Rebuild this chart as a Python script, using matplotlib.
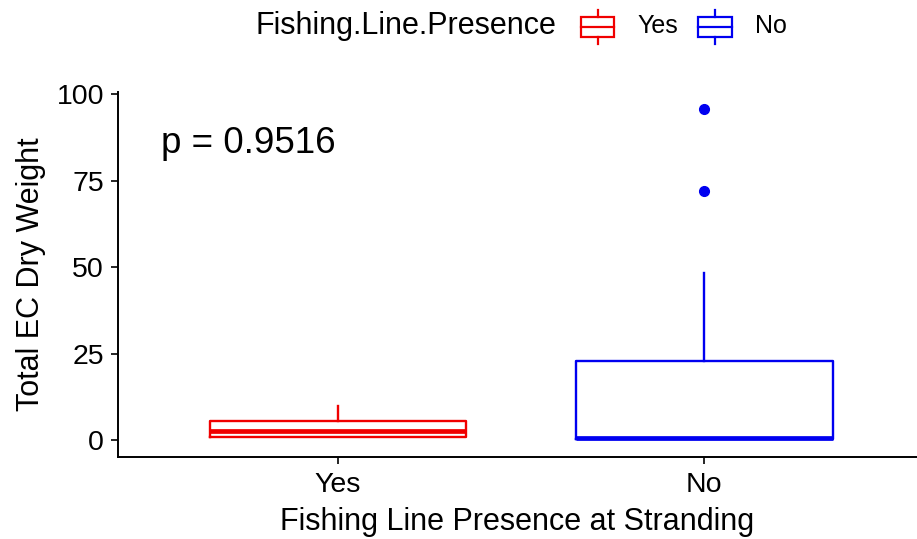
import matplotlib.pyplot as plt
from matplotlib.patches import Rectangle
from matplotlib.lines import Line2D

plt.rcParams['font.family'] = ['Liberation Sans', 'DejaVu Sans']

# data
groups = ['Yes', 'No']
colors = ['#F00000', '#0000F0']
q1 = [0.9, 0.3]
med = [2.6, 0.8]
q3 = [5.6, 22.9]
whis_lo = [0.9, 0.3]
whis_hi = [9.8, 48.2]
outliers = [[], [72.0, 95.7]]
p_text = 'p = 0.9516'

W, H = 917, 539
fig = plt.figure(figsize=(W / 100, H / 100), dpi=100)
ax = fig.add_axes([118 / W, 1 - 457 / H, (917 - 118) / W, (457 - 92) / H])

stats = []
for i, g in enumerate(groups):
    stats.append(dict(label=g, q1=q1[i], med=med[i], q3=q3[i],
                      whislo=whis_lo[i], whishi=whis_hi[i], fliers=outliers[i]))

for i, s in enumerate(stats):
    c = colors[i]
    ax.bxp([s], positions=[i + 1], widths=0.7, showcaps=False, patch_artist=False,
           boxprops=dict(color=c, linewidth=1.7),
           whiskerprops=dict(color=c, linewidth=1.7),
           medianprops=dict(color=c, linewidth=3.4, solid_capstyle='butt'),
           flierprops=dict(marker='o', markerfacecolor=c, markeredgecolor=c,
                           markersize=7, linestyle='none'))

ax.set_xlim(0.4, 2.58)
ax.set_ylim(-4.8, 100.6)
ax.set_xticks([1, 2])
ax.set_xticklabels(groups)
ax.set_yticks([0, 25, 50, 75, 100])
ax.tick_params(axis='both', labelsize=20.5, length=5, width=1.2, color='black',
               labelcolor='black')
ax.tick_params(axis='y', pad=5)
ax.tick_params(axis='x', pad=6)
for side in ['top', 'right']:
    ax.spines[side].set_visible(False)
for side in ['left', 'bottom']:
    ax.spines[side].set_linewidth(1.4)

ax.set_xlabel('Fishing Line Presence at Stranding', fontsize=22, labelpad=6)
ax.set_ylabel('Total EC Dry Weight', fontsize=22, labelpad=8)

ax.text(0.517, 85.8, p_text, fontsize=26.5, ha='left', va='center')

# legend drawn at the top (ggplot-style)
def fx(px):
    return px / W

def fy(py):
    return 1 - py / H

fig.text(fx(255), fy(26), 'Fishing.Line.Presence', fontsize=22, ha='left', va='center')

def legend_key(x0, x1, color):
    fig.add_artist(Rectangle((fx(x0), fy(37)), fx(x1) - fx(x0), fy(17) - fy(37),
                             transform=fig.transFigure, fill=False, edgecolor=color, linewidth=1.6))
    fig.add_artist(Line2D([fx(x0), fx(x1)], [fy(27), fy(27)], transform=fig.transFigure,
                          color=color, linewidth=1.6))
    xm = (fx(x0) + fx(x1)) / 2
    fig.add_artist(Line2D([xm, xm], [fy(10), fy(17)], transform=fig.transFigure, color=color, linewidth=1.6))
    fig.add_artist(Line2D([xm, xm], [fy(37), fy(44)], transform=fig.transFigure, color=color, linewidth=1.6))

legend_key(581, 614, colors[0])
fig.text(fx(637), fy(26), groups[0], fontsize=18, ha='left', va='center')
legend_key(698, 732, colors[1])
fig.text(fx(755), fy(26), groups[1], fontsize=18, ha='left', va='center')

fig.savefig('out.png', dpi=100)
